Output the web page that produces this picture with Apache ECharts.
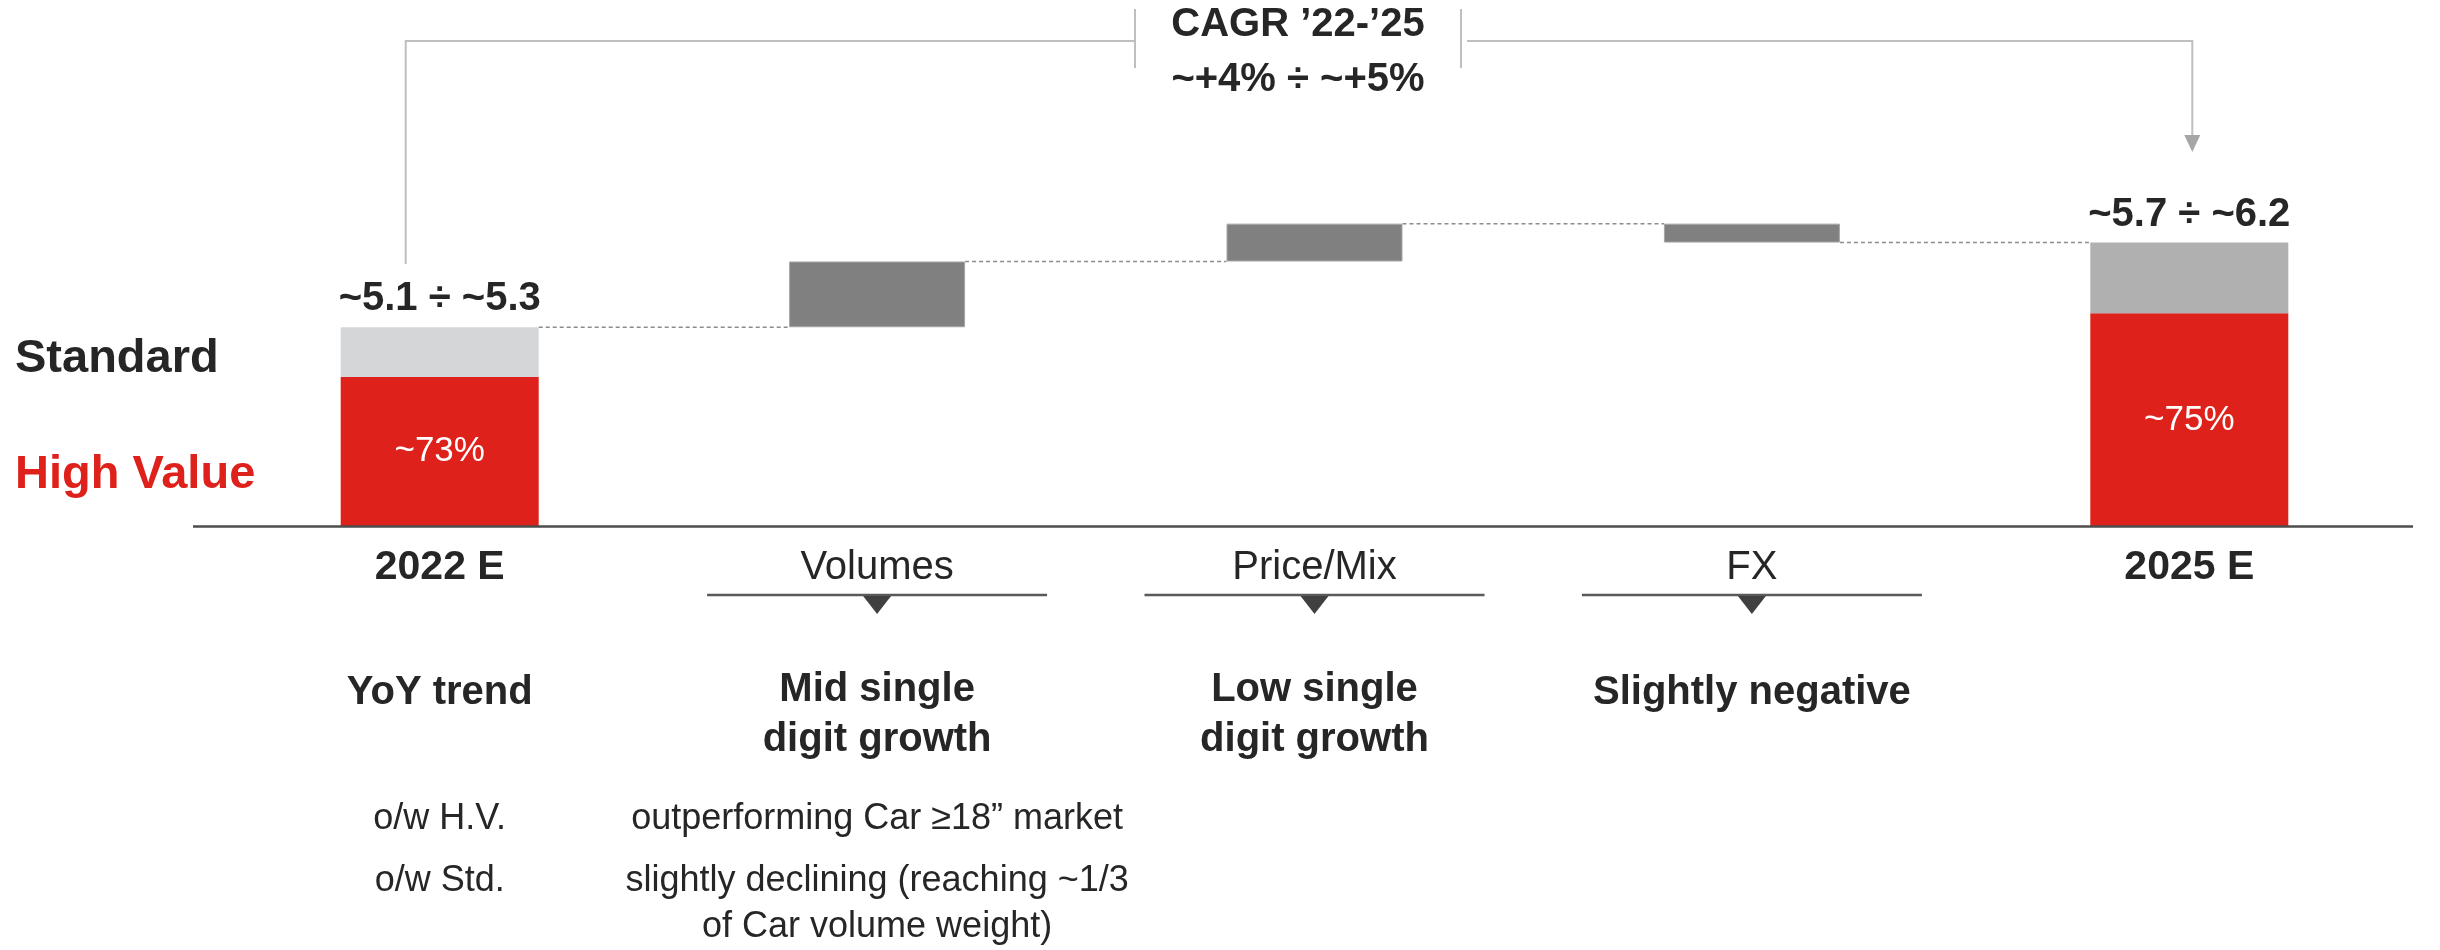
<!DOCTYPE html>
<html>
<head>
<meta charset="utf-8">
<script src="https://cdn.jsdelivr.net/npm/echarts@6/dist/echarts.min.js"></script>
<style>
html,body{margin:0;padding:0;background:#fff;}
#chart{width:2440px;height:950px;}
</style>
</head>
<body>
<div id="chart"></div>
<script>
// ---- data (schematic index: 2022 E total = 100) ----
const categories = ['2022 E', 'Volumes', 'Price/Mix', 'FX', '2025 E'];
const highValue  = [75, null, null, null, 107];
const standard   = [25, null, null, null, 35.5];
const deltas     = [null, 33, 19, -9.5, null];
const totalLabels = ['~5.1 ÷ ~5.3', '', '', '', '~5.7 ÷ ~6.2'];
const shareLabels = ['~73%', '', '', '', '~75%'];
const trendTexts = ['YoY trend', 'Mid single\ndigit growth', 'Low single\ndigit growth', 'Slightly negative', ''];
const hvTexts    = ['o/w H.V.', 'outperforming Car ≥18” market', '', '', ''];
const stdTexts   = ['o/w Std.', 'slightly declining (reaching ~1/3\nof Car volume weight)', '', '', ''];
const cagrTitle  = 'CAGR ’22-’25';
const cagrValue  = '~+4% ÷ ~+5%';
const legendLabels = ['Standard', 'High Value'];
const boldCategories = ['2022 E', '2025 E'];

// ---- styles ----
const FONT = "'Liberation Sans', Arial, Helvetica, sans-serif";
const DARK = '#262626';
const RED = '#DE211B';
const STD_COLORS = ['#D5D6D8', '#B0B0B0'];
const DELTA_COLOR = '#808080';
const TOTAL_W = 198;
const DELTA_W = 176;

// ---- waterfall computation ----
const base = [], up = [], levels = [];
let level = 0;
for (let i = 0; i < categories.length; i++) {
  if (deltas[i] == null) {
    level = (highValue[i] || 0) + (standard[i] || 0);
    base.push('-'); up.push('-');
  } else {
    const end = level + deltas[i];
    base.push(Math.min(level, end));
    up.push(Math.abs(deltas[i]));
    level = end;
  }
  levels.push(level);
}
const connectors = [];
for (let i = 0; i < categories.length - 1; i++) connectors.push([i, levels[i]]);
const halfW = (i) => (deltas[i] == null ? TOTAL_W : DELTA_W) / 2;

const chart = echarts.init(document.getElementById('chart'), null, {renderer: 'canvas'});

let stdIdx = 0;
const stdData = standard.map(v => v == null ? '-' : {value: v, itemStyle: {color: STD_COLORS[stdIdx++]}});
const hvData = highValue.map(v => v == null ? '-' : v);

const option = {
  backgroundColor: '#ffffff',
  animation: false,
  textStyle: {fontFamily: FONT},
  grid: {left: 221, right: 32, top: 128, bottom: 423.5, containLabel: false},
  xAxis: [{
    type: 'category',
    data: categories,
    axisLine: {show: false},
    axisTick: {show: false},
    axisLabel: {
      margin: 21,
      interval: 0,
      formatter: (v) => boldCategories.includes(v) ? '{b|' + v + '}' : '{n|' + v + '}',
      rich: {
        b: {fontSize: 41, fontWeight: 'bold', color: DARK, fontFamily: FONT, lineHeight: 41},
        n: {fontSize: 40, fontWeight: 'normal', color: DARK, fontFamily: FONT, lineHeight: 41}
      }
    }
  }, {
    type: 'category', data: categories, show: false
  }],
  yAxis: {type: 'value', min: 0, max: 200, show: false, splitLine: {show: false}},
  series: [
    {
      name: 'connectors', type: 'custom', z: 1,
      data: connectors,
      renderItem: (params, api) => {
        const i = api.value(0), v = api.value(1);
        const a = api.coord([i, v]);
        const b = api.coord([i + 1, v]);
        return {
          type: 'line',
          shape: {x1: a[0] + halfW(i), y1: a[1], x2: b[0] - halfW(i + 1), y2: b[1]},
          style: {stroke: '#8C8C8C', lineWidth: 1.5, lineDash: [4, 3]}
        };
      }
    },
    {
      name: 'base', type: 'bar', xAxisIndex: 1, stack: 'wf', barWidth: DELTA_W, z: 2,
      itemStyle: {color: 'transparent'}, emphasis: {disabled: true},
      data: base
    },
    {
      name: 'delta', type: 'bar', xAxisIndex: 1, stack: 'wf', barWidth: DELTA_W, z: 2,
      itemStyle: {color: DELTA_COLOR, borderColor: '#A6A6A6', borderWidth: 1},
      data: up
    },
    {
      name: 'High Value', type: 'bar', xAxisIndex: 0, stack: 'tot', barWidth: TOTAL_W, z: 3,
      itemStyle: {color: RED},
      label: {
        show: true, position: 'inside', color: '#ffffff', fontSize: 35, fontFamily: FONT,
        formatter: (p) => shareLabels[p.dataIndex]
      },
      data: hvData
    },
    {
      name: 'Standard', type: 'bar', xAxisIndex: 0, stack: 'tot', barWidth: TOTAL_W, z: 3,
      label: {
        show: true, position: 'top', distance: 8, color: DARK, fontSize: 40, fontWeight: 'bold',
        fontFamily: FONT, lineHeight: 40,
        formatter: (p) => totalLabels[p.dataIndex]
      },
      data: stdData
    }
  ]
};
chart.setOption(option);

// ---- annotations (positioned from the axes) ----
const cx = (i) => chart.convertToPixel({xAxisIndex: 0}, i);
const cy = (v) => chart.convertToPixel({yAxisIndex: 0}, v);
const y0 = cy(0);
const g = [];
const txt = (x, y, text, size, weight, color, align, lh) => ({
  type: 'text', x: x, y: y, silent: true,
  style: {text: text, fontSize: size, fontWeight: weight, fill: color, fontFamily: FONT,
          align: align || 'center', verticalAlign: 'middle', lineHeight: lh || size}
});

// baseline
g.push({type: 'line', shape: {x1: 193, y1: y0, x2: 2413, y2: y0}, style: {stroke: '#4D4D4D', lineWidth: 2.5}, z: 10});

// left labels
g.push(txt(15, 359, legendLabels[0], 47, 'bold', DARK, 'left'));
g.push(txt(15, 475.5, legendLabels[1], 47, 'bold', RED, 'left'));

// underline + triangle under delta categories, and texts
for (let i = 0; i < categories.length; i++) {
  const x = cx(i);
  if (deltas[i] != null) {
    g.push({type: 'line', shape: {x1: x - 170, y1: 595, x2: x + 170, y2: 595}, style: {stroke: '#595959', lineWidth: 2.5}});
    g.push({type: 'polygon', shape: {points: [[x - 14, 596], [x + 14, 596], [x, 614]]}, style: {fill: '#404040'}});
  }
  if (trendTexts[i]) {
    const lines = trendTexts[i].split('\n').length;
    const yc = lines > 1 ? 690 + (lines - 1) * 25 : 693;
    g.push(txt(x, yc, trendTexts[i], 40, 'bold', DARK, 'center', 50));
  }
  if (hvTexts[i]) {
    const lines = hvTexts[i].split('\n').length;
    g.push(txt(x, 819 + (lines - 1) * 23, hvTexts[i], 36, 'normal', DARK, 'center', 46));
  }
  if (stdTexts[i]) {
    const lines = stdTexts[i].split('\n').length;
    g.push(txt(x, 881 + (lines - 1) * 23, stdTexts[i], 36, 'normal', DARK, 'center', 46));
  }
}

// CAGR bracket
const BR = '#BFBFBF';
const xL = cx(0) - 34, xR = cx(4) + 3;
g.push({type: 'polyline', shape: {points: [[xL, 264], [xL, 41], [1135, 41]]}, style: {stroke: BR, lineWidth: 2, fill: null}});
g.push({type: 'line', shape: {x1: 1135, y1: 9, x2: 1135, y2: 68}, style: {stroke: BR, lineWidth: 2}});
g.push({type: 'line', shape: {x1: 1461, y1: 9, x2: 1461, y2: 68}, style: {stroke: BR, lineWidth: 2}});
g.push({type: 'polyline', shape: {points: [[1467, 41], [xR, 41], [xR, 138]]}, style: {stroke: BR, lineWidth: 2, fill: null}});
g.push({type: 'polygon', shape: {points: [[xR - 8, 135], [xR + 8, 135], [xR, 152]]}, style: {fill: '#A6A6A6'}});
g.push(txt(1298, 24.5, cagrTitle, 40, 'bold', DARK));
g.push(txt(1298, 80, cagrValue, 40, 'bold', DARK));

chart.setOption({graphic: {elements: g}});
</script>
</body>
</html>
